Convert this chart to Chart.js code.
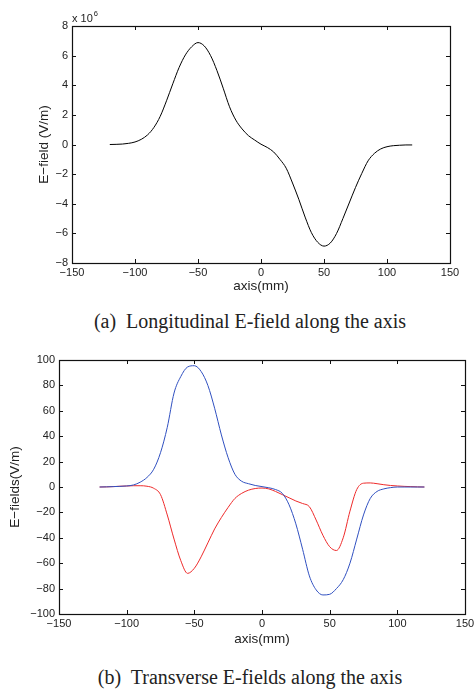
<!DOCTYPE html>
<html>
<head>
<meta charset="utf-8">
<script src="https://cdn.jsdelivr.net/npm/chart.js@4.4.1/dist/chart.umd.min.js"></script>
<style>
  html,body{margin:0;padding:0;background:#fff;width:475px;height:694px;overflow:hidden;}
  canvas{position:absolute;left:0;}
  #c1{top:0;}
  #c2{top:340px;}
  .cap{position:absolute;left:25px;width:450px;text-align:center;font-family:"Liberation Serif","Times New Roman",serif;font-size:20px;line-height:20px;color:#222;white-space:pre;z-index:2;}
  #capA{top:311px;}
  #capB{top:667px;}
</style>
</head>
<body>
<canvas id="c1" width="475" height="300"></canvas>
<canvas id="c2" width="475" height="310"></canvas>
<div class="cap" id="capA">(a)  Longitudinal E-field along the axis</div>
<div class="cap" id="capB">(b)  Transverse E-fields along the axis</div>
<script>
// ---- data ----
const axisPos = [-120,-115,-110,-105,-100,-95,-90,-85,-80,-75,-70,-65,-60,-55,-50,-45,-40,-35,-30,-25,-20,-15,-10,-5,0,5,10,15,20,25,30,35,40,45,50,55,60,65,70,75,80,85,90,95,100,105,110,115,120];
// longitudinal field, units of 1e6 V/m
const eLongitudinal = [0.0,0.01,0.03,0.08,0.17,0.35,0.65,1.15,1.9,2.95,4.1,5.2,6.05,6.6,6.88,6.65,6.0,5.0,3.8,2.55,1.65,1.05,0.6,0.3,0.02,-0.2,-0.5,-1.0,-1.6,-2.6,-3.7,-4.9,-5.95,-6.6,-6.86,-6.65,-6.0,-5.0,-3.95,-2.9,-1.95,-1.1,-0.6,-0.3,-0.15,-0.08,-0.05,-0.03,-0.03];
// transverse fields, V/m
const eTransBlue = [0,0.1,0.3,0.5,0.8,1.6,3.8,7.5,14,27,47,74,87,94.5,95.5,91,80,62,41,23,10,4.5,2.6,1.2,0.3,-0.6,-2,-5,-14,-29,-49,-70,-81,-85,-84.5,-80,-73,-60,-41,-22,-9,-3.5,-1.5,-0.5,0,0,0,0,0];
const eTransRed = [0,0.1,0.3,0.6,0.8,1.0,1.0,0.6,-1,-6,-22,-41,-58,-68,-64,-55,-44,-33,-24,-16,-9,-5,-2.5,-1.2,-0.8,-1.5,-3.5,-6,-8.5,-11,-13,-15.5,-26,-38,-47,-50,-40,-19,-2,3,3.2,2.6,1.8,1.2,0.8,0.5,0.3,0.1,0];
// tick labels
const xTicks = [-150,-100,-50,0,50,100,150];
const yTicksTop = [-8,-6,-4,-2,0,2,4,6,8];
const yTicksBottom = [-100,-80,-60,-40,-20,0,20,40,60,80,100];

// ---- helpers ----
const FONT = "'Liberation Sans', Arial, Helvetica, sans-serif";
const TXT = '#222';
const fmt = v => (v < 0 ? '\u2212' + Math.abs(v) : String(v));
const pts = ys => axisPos.map((x, i) => ({x: x, y: ys[i]}));
const setTicks = arr => (s => { s.ticks = arr.map(v => ({value: v})); });

const framePlugin = {
  id: 'frame',
  afterDatasetsDraw(chart, args, opts) {
    const ctx = chart.ctx;
    const {left, right, top, bottom} = chart.chartArea;
    const xs = chart.scales.x, ys = chart.scales.y;
    ctx.save();
    ctx.strokeStyle = '#111';
    ctx.lineWidth = 1;
    ctx.beginPath();
    xs.ticks.forEach(t => {
      const p = Math.round(xs.getPixelForValue(t.value)) + 0.5;
      ctx.moveTo(p, bottom); ctx.lineTo(p, bottom - 4);
      ctx.moveTo(p, top); ctx.lineTo(p, top + 4);
    });
    ys.ticks.forEach(t => {
      const p = Math.round(ys.getPixelForValue(t.value)) + 0.5;
      ctx.moveTo(left, p); ctx.lineTo(left + 4, p);
      ctx.moveTo(right, p); ctx.lineTo(right - 4, p);
    });
    ctx.stroke();
    ctx.lineWidth = 1.2;
    ctx.strokeRect(Math.round(left) + 0.5, Math.round(top) + 0.5, Math.round(right - left), Math.round(bottom - top));
    if (opts && opts.exponent) {
      ctx.fillStyle = TXT;
      ctx.textBaseline = 'alphabetic';
      ctx.textAlign = 'left';
      ctx.font = "11px " + FONT;
      ctx.fillText('x 10', left, top - 4);
      const w = ctx.measureText('x 10').width;
      ctx.font = "7.5px " + FONT;
      ctx.fillText(opts.exponent, left + w + 1, top - 10);
    }
    ctx.restore();
  }
};

function makeChart(id, datasets, yMin, yMax, yTicks, cfg) {
  return new Chart(document.getElementById(id), {
    type: 'scatter',
    data: {datasets: datasets},
    plugins: [framePlugin],
    options: {
      responsive: false,
      animation: false,
      devicePixelRatio: 1,
      layout: {padding: {left: 0, right: cfg.padRight, top: cfg.padTop, bottom: 0}},
      plugins: {legend: {display: false}, tooltip: {enabled: false}, frame: {exponent: cfg.exponent}},
      elements: {point: {radius: 0}, line: {borderWidth: 1, cubicInterpolationMode: 'monotone'}},
      scales: {
        x: {
          type: 'linear', min: -150, max: 150,
          afterBuildTicks: setTicks(xTicks),
          afterFit: s => { s.height = cfg.xHeight; s.paddingLeft = 0; s.paddingRight = 0; },
          grid: {display: false, drawTicks: false},
          border: {display: false},
          ticks: {font: {family: FONT, size: 11}, color: TXT, padding: 3, maxRotation: 0, autoSkip: false, callback: fmt},
          title: {display: true, text: 'axis(mm)', font: {family: FONT, size: 13.5}, color: TXT, padding: {top: 0, bottom: cfg.xTitlePad}}
        },
        y: {
          type: 'linear', min: yMin, max: yMax,
          afterBuildTicks: setTicks(yTicks),
          afterFit: s => { s.width = cfg.yWidth; s.paddingTop = 0; s.paddingBottom = 0; },
          grid: {display: false, drawTicks: false},
          border: {display: false},
          ticks: {font: {family: FONT, size: 11}, color: TXT, padding: 4, autoSkip: false, callback: fmt},
          title: {display: true, text: cfg.yTitle, font: {family: FONT, size: 13.5}, color: TXT, padding: {top: cfg.yTitlePad, bottom: 0}}
        }
      }
    }
  });
}

makeChart('c1', [
  {data: pts(eLongitudinal), showLine: true, borderColor: '#000', backgroundColor: '#000', fill: false}
], -8, 8, yTicksTop, {padRight: 25, padTop: 26, xHeight: 37, xTitlePad: 5.9, yWidth: 72, yTitle: 'E\u2212field (V/m)', yTitlePad: 36.6, exponent: '6'});

makeChart('c2', [
  {data: pts(eTransBlue), showLine: true, borderColor: '#3050c0', backgroundColor: '#3050c0', fill: false},
  {data: pts(eTransRed), showLine: true, borderColor: '#ee2a2a', backgroundColor: '#ee2a2a', fill: false}
], -100, 100, yTicksBottom, {padRight: 10, padTop: 20, xHeight: 36, xTitlePad: 2.9, yWidth: 59, yTitle: 'E\u2212fields(V/m)', yTitlePad: 6.9, exponent: null});
</script>
</body>
</html>
